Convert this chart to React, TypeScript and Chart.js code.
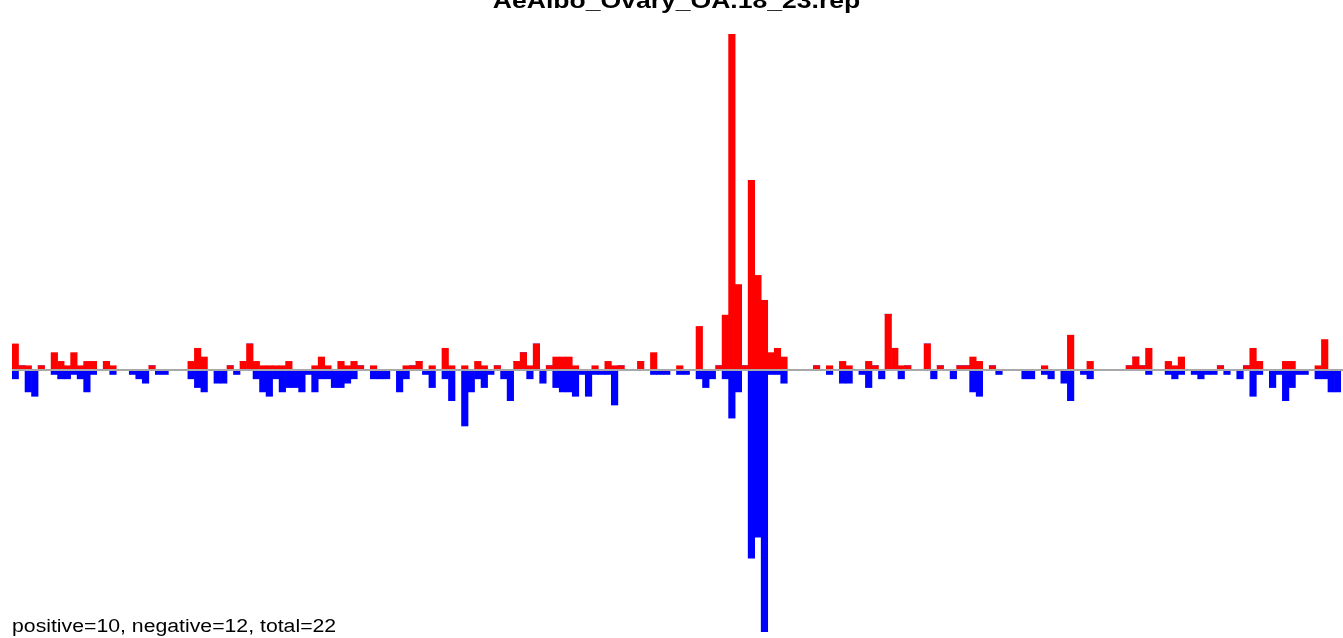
import { useEffect, useRef } from "react";
import { Chart, registerables } from "chart.js";

Chart.register(...registerables);

const titleText = "AeAlbo_Ovary_OA.18_23.rep";
const footerText = "positive=10, negative=12, total=22";

// bin indices (204 bins)
const bins: string[] = Array.from({ length: 204 }, (_, i) => String(i));

const positive: number[] = [
  6, 1, 1, 0, 1, 0, 4, 2, 1, 4,
  1, 2, 2, 0, 2, 1, 0, 0, 0, 0,
  0, 1, 0, 0, 0, 0, 0, 2, 5, 3,
  0, 0, 0, 1, 0, 2, 6, 2, 1, 1,
  1, 1, 2, 0, 0, 0, 1, 3, 1, 0,
  2, 1, 2, 1, 0, 1, 0, 0, 0, 0,
  1, 1, 2, 0, 1, 0, 5, 1, 0, 1,
  0, 2, 1, 0, 1, 0, 0, 2, 4, 1,
  6, 0, 1, 3, 3, 3, 1, 0, 0, 1,
  0, 2, 1, 1, 0, 0, 2, 0, 4, 0,
  0, 0, 1, 0, 0, 10, 0, 0, 1, 12.6,
  77, 19.6, 1, 43.5, 21.7, 16, 4, 5, 3, 0,
  0, 0, 0, 1, 0, 1, 0, 2, 1, 0,
  0, 2, 1, 0, 12.8, 5, 1, 1, 0, 0,
  6, 0, 1, 0, 0, 1, 1, 3, 2, 0,
  1, 0, 0, 0, 0, 0, 0, 0, 1, 0,
  0, 0, 8, 0, 0, 2, 0, 0, 0, 0,
  0, 1, 3, 1, 5, 0, 0, 2, 1, 3,
  0, 0, 0, 0, 0, 1, 0, 0, 0, 1,
  5, 2, 0, 0, 0, 2, 2, 0, 0, 0,
  1, 7, 0, 0,
];

const negative: number[] = [
  2, 0, 5, 6, 0, 0, 1, 2, 2, 1,
  2, 5, 1, 0, 0, 1, 0, 0, 1, 2,
  3, 0, 1, 1, 0, 0, 0, 2, 4, 5,
  0, 3, 3, 0, 1, 0, 0, 2, 5, 6,
  2, 5, 4, 4, 5, 1, 5, 2, 2, 4,
  4, 3, 2, 0, 0, 2, 2, 2, 0, 5,
  2, 0, 0, 1, 4, 0, 2, 7, 0, 12.8,
  5, 2, 4, 1, 0, 2, 7, 0, 0, 2,
  0, 3, 0, 4, 5, 5, 6, 1, 6, 1,
  1, 1, 8, 0, 0, 0, 0, 0, 1, 1,
  1, 0, 1, 1, 0, 2, 4, 2, 0, 2,
  11, 5, 0, 43.1, 38.3, 60, 1, 1, 3, 0,
  0, 0, 0, 0, 0, 1, 0, 3, 3, 0,
  1, 4, 0, 2, 0, 0, 2, 0, 0, 0,
  0, 2, 0, 0, 2, 0, 0, 5, 6, 0,
  0, 1, 0, 0, 0, 2, 2, 0, 1, 2,
  0, 3, 7, 0, 1, 2, 0, 0, 0, 0,
  0, 0, 0, 0, 1, 0, 0, 1, 2, 1,
  0, 1, 2, 1, 1, 0, 1, 0, 2, 0,
  6, 1, 0, 4, 1, 7, 4, 1, 1, 0,
  2, 2, 5, 5,
];

const yMin = -60;
const yMax = 77;

const overlayPlugin = {
  id: "overlay",
  afterDatasetsDraw(chart: any) {
    const { ctx, chartArea, scales } = chart;
    const y0 = scales.y.getPixelForValue(0);
    ctx.save();
    ctx.strokeStyle = "#a8a8a8";
    ctx.lineWidth = 2;
    ctx.beginPath();
    ctx.moveTo(chartArea.left, y0);
    ctx.lineTo(chartArea.right + 2, y0);
    ctx.stroke();
    ctx.restore();
  },
  afterDraw(chart: any) {
    const { ctx } = chart;
    ctx.save();
    ctx.fillStyle = "#000000";
    ctx.textBaseline = "alphabetic";
    // title (partly cut off at top)
    ctx.font = "bold 22.5px 'Liberation Sans', Arial, sans-serif";
    ctx.textAlign = "center";
    ctx.save();
    ctx.translate(676.5, 8);
    ctx.scale(1.18, 1);
    ctx.fillText(titleText, 0, 0);
    ctx.restore();
    // footer
    ctx.font = "18px 'Liberation Sans', Arial, sans-serif";
    ctx.textAlign = "left";
    ctx.save();
    ctx.translate(12, 632);
    ctx.scale(1.18, 1);
    ctx.fillText(footerText, 0, 0);
    ctx.restore();
    ctx.restore();
  },
};

export default function App() {
  const ref = useRef<HTMLCanvasElement>(null);
  useEffect(() => {
    document.body.style.margin = "0";
    const canvas = ref.current!;
    const chart = new Chart(canvas, {
      type: "bar",
      data: {
        labels: bins,
        datasets: [
          {
            label: "positive",
            data: positive,
            backgroundColor: "#ff0000",
            borderWidth: 0,
            barPercentage: 1,
            categoryPercentage: 1,
          },
          {
            label: "negative",
            data: negative.map((v) => -v),
            backgroundColor: "#0000ff",
            borderWidth: 0,
            barPercentage: 1,
            categoryPercentage: 1,
          },
        ],
      },
      options: {
        responsive: false,
        animation: false,
        layout: { padding: { left: 12, right: 2, top: 34, bottom: 6 } },
        scales: {
          x: { stacked: true, display: false, offset: true },
          y: { stacked: true, display: false, min: yMin, max: yMax },
        },
        plugins: {
          legend: { display: false },
          tooltip: { enabled: false },
          title: { display: false },
        },
      },
      plugins: [overlayPlugin],
    });
    return () => chart.destroy();
  }, []);
  return (
    <div style={{ position: "absolute", left: 0, top: 0, width: 1343, height: 638, background: "#fff" }}>
      <canvas ref={ref} width={1343} height={638} style={{ display: "block" }} />
    </div>
  );
}
